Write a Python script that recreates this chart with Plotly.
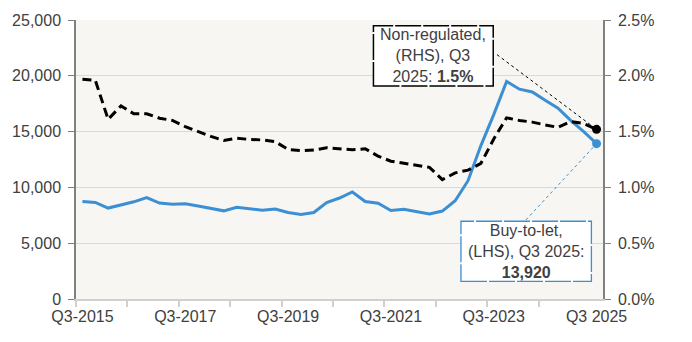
import plotly.graph_objects as go

# Quarterly series, Q3 2015 to Q3 2025
quarters = [f"Q{q}-{y}" for y in range(2015, 2026) for q in (1, 2, 3, 4)][2:-1]

# Buy-to-let volumes (left-hand scale)
buy_to_let = [
    8740, 8650, 8150, 8450, 8710, 9090, 8600, 8480, 8540, 8330,
    8100, 7900, 8220, 8070, 7960, 8070, 7750, 7580, 7750, 8650,
    9050, 9590, 8730, 8580, 7930, 8040, 7850, 7620, 7880, 8800,
    10600, 13750, 16520, 19500, 18800, 18550, 17800, 17100, 15990, 15000,
    13920,
]

# Non-regulated share, per cent (right-hand scale)
non_regulated = [
    1.97, 1.96, 1.61, 1.73, 1.66, 1.66, 1.62, 1.60, 1.545, 1.50,
    1.457, 1.42, 1.44, 1.43, 1.425, 1.41, 1.34, 1.33, 1.335, 1.355,
    1.346, 1.337, 1.346, 1.28, 1.235, 1.215, 1.195, 1.18, 1.07, 1.13,
    1.155, 1.215, 1.434, 1.623, 1.60, 1.585, 1.56, 1.538, 1.59, 1.572,
    1.52,
]

tick_positions = [0, 8, 16, 24, 32, 40]
tick_labels = ["Q3-2015", "Q3-2017", "Q3-2019", "Q3-2021", "Q3-2023", "Q3 2025"]

left_ticks = [0, 5000, 10000, 15000, 20000, 25000]
right_ticks = [0.0, 0.5, 1.0, 1.5, 2.0, 2.5]
right_labels = ["0.0%", "0.5%", "1.0%", "1.5%", "2.0%", "2.5%"]

BLUE = "#3C8FD3"
TEXT = "#404040"
FONT = "Liberation Sans, Arial, sans-serif"

x = list(range(len(quarters)))
last = len(quarters) - 1

fig = go.Figure()

fig.add_trace(go.Scatter(
    x=x, y=buy_to_let, mode="lines", name="Buy-to-let",
    line=dict(color=BLUE, width=3), yaxis="y",
))
fig.add_trace(go.Scatter(
    x=x, y=non_regulated, mode="lines", name="Non-regulated",
    line=dict(color="black", width=3, dash="9px,5px"), yaxis="y2",
))
fig.add_trace(go.Scatter(
    x=[x[last]], y=[non_regulated[last]], mode="markers",
    marker=dict(color="black", size=9), yaxis="y2",
))
fig.add_trace(go.Scatter(
    x=[x[last]], y=[buy_to_let[last]], mode="markers",
    marker=dict(color=BLUE, size=9), yaxis="y",
))

# Leader lines from the callout boxes to the latest observations
fig.add_shape(type="line", xref="x", yref="y2",
              x0=32.25, y0=2.19, x1=x[last], y1=non_regulated[last],
              line=dict(color="black", width=1, dash="dot"), layer="above")
fig.add_shape(type="line", xref="x", yref="y",
              x0=34.5, y0=7080, x1=x[last], y1=buy_to_let[last],
              line=dict(color=BLUE, width=1, dash="dot"), layer="above")

# Callout boxes
fig.add_shape(type="rect", xref="paper", yref="paper",
              x0=0.5644, x1=0.7917, y0=0.7633, y1=0.979,
              fillcolor="white", line=dict(color="black", width=1.5, dash="26px,2px"),
              layer="above")
fig.add_shape(type="rect", xref="paper", yref="paper",
              x0=0.7305, x1=0.978, y0=0.0629, y1=0.2787,
              fillcolor="white", line=dict(color=BLUE, width=1.3, dash="26px,2px"),
              layer="above")

fig.add_annotation(
    xref="paper", yref="paper", x=0.678, y=0.871,
    text=f"Non-regulated,<br>(RHS), Q3<br>2025: <b>{non_regulated[last]:.1f}%</b>",
    showarrow=False, align="center", xanchor="center", yanchor="middle",
    font=dict(family=FONT, size=16, color=TEXT),
)
fig.add_annotation(
    xref="paper", yref="paper", x=0.854, y=0.171,
    text=f"Buy-to-let,<br>(LHS), Q3 2025:<br><b>{buy_to_let[last]:,}</b>",
    showarrow=False, align="center", xanchor="center", yanchor="middle",
    font=dict(family=FONT, size=16, color=TEXT),
)

fig.update_layout(
    width=692, height=342,
    margin=dict(l=75, r=89, t=13, b=43),
    paper_bgcolor="white",
    plot_bgcolor="#F7F6F2",
    showlegend=False,
    font=dict(family=FONT, size=16, color=TEXT),
    xaxis=dict(
        range=[-0.5, 40.5],
        tickmode="array", tickvals=tick_positions, ticktext=tick_labels,
        ticks="", showgrid=False, zeroline=False,
        showline=True, linecolor="#D0D0D0", linewidth=1.5,
        ticklabelstandoff=2,
        minor=dict(tickmode="array",
                   tickvals=[p - 0.5 for p in range(0, 40, 4)],
                   ticks="outside", ticklen=6, tickcolor="#D0D0D0", tickwidth=1.5,
                   showgrid=False),
    ),
    yaxis=dict(
        range=[0, 25000], tickmode="array", tickvals=left_ticks,
        tickformat=",", ticks="outside", ticklen=6, tickcolor="#808080",
        showline=True, linecolor="#808080", linewidth=1.5,
        showgrid=True, gridcolor="#D9D9D9", gridwidth=1.2, zeroline=False,
        ticklabelstandoff=4,
    ),
    yaxis2=dict(
        range=[0, 2.5], tickmode="array", tickvals=right_ticks,
        ticktext=right_labels, ticks="outside", ticklen=6,
        tickcolor="#808080", overlaying="y", side="right",
        showline=True, linecolor="#808080", linewidth=1.5,
        showgrid=False, zeroline=False, ticklabelstandoff=4,
    ),
)

fig.write_html("out.html")
